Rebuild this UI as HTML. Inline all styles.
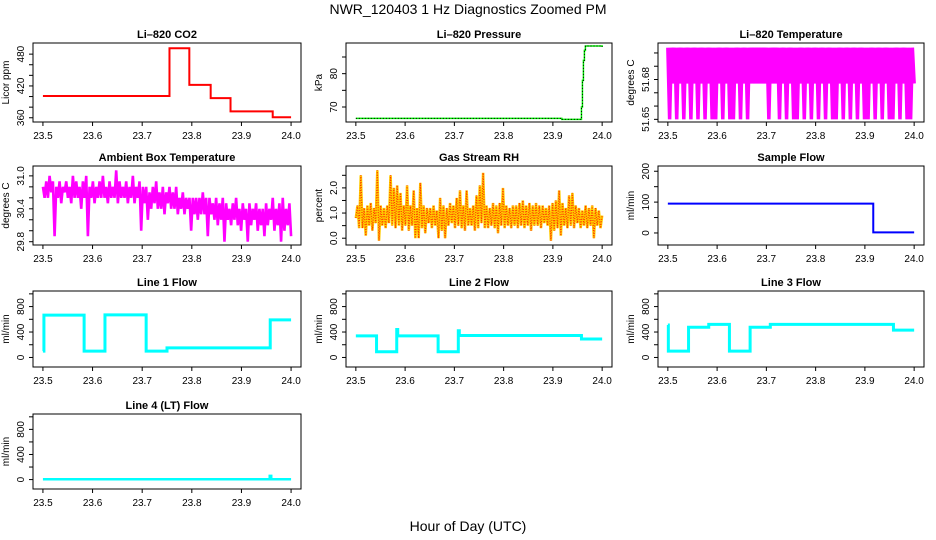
<!DOCTYPE html>
<html><head><meta charset="utf-8">
<style>
html,body{margin:0;padding:0;background:#fff;}
svg{display:block;font-family:"Liberation Sans",Arial,sans-serif;}
</style></head>
<body>
<svg id="chart" width="936" height="540" viewBox="0 0 936 540" xmlns="http://www.w3.org/2000/svg">
<text x="468" y="14" text-anchor="middle" font-size="14">NWR_120403  1 Hz Diagnostics Zoomed PM</text>
<text x="468" y="531" text-anchor="middle" font-size="14">Hour of Day (UTC)</text>
</svg>
<script>
const xTicks = [23.5, 23.6, 23.7, 23.8, 23.9, 24.0];
const xTickLabels = ["23.5", "23.6", "23.7", "23.8", "23.9", "24.0"];

const co2Times = [23.5, 23.755, 23.795, 23.838, 23.878, 23.963, 24.0];
const co2Vals = [401, 491, 422, 397, 372, 361, 361];

const pressTimes = [23.5, 23.918, 23.958, 23.960, 23.962, 23.964, 23.966, 24.0];
const pressVals = [66.6, 66.3, 70, 78, 84, 87, 88.3, 88.0];

const tempVals = [51.704,51.65,51.704,51.677,51.704,51.65,51.704,51.677,51.704,51.65,51.704,51.677,51.704,51.65,51.704,51.677,51.704,51.65,51.704,51.677,
51.704,51.65,51.704,51.677,51.704,51.65,51.704,51.65,51.704,51.677,51.704,51.65,51.704,51.677,51.704,51.65,51.704,51.65,51.704,51.677,
51.704,51.65,51.704,51.677,51.704,51.65,51.704,51.677,51.704,51.677,51.704,51.677,51.704,51.677,51.704,51.677,51.704,51.65,51.704,51.677,
51.704,51.677,51.704,51.65,51.704,51.677,51.704,51.65,51.704,51.677,51.704,51.65,51.704,51.65,51.704,51.677,51.704,51.65,51.704,51.677,
51.704,51.65,51.704,51.677,51.704,51.65,51.704,51.677,51.704,51.65,51.704,51.677,51.704,51.65,51.704,51.65,51.704,51.677,51.704,51.65,
51.704,51.677,51.704,51.65,51.704,51.677,51.704,51.65,51.704,51.677,51.704,51.65,51.704,51.65,51.704,51.677,51.704,51.65,51.704,51.677,
51.704,51.65,51.704,51.677,51.704,51.65,51.704,51.65,51.704,51.677,51.704,51.65,51.704,51.677,51.704,51.65,51.704,51.65,51.704,51.677];

const ambVals = [30.8,30.6,30.9,30.6,31.0,30.7,30.9,29.9,30.8,30.6,30.9,30.5,30.8,30.7,30.9,30.6,30.8,30.5,31.0,30.6,30.9,30.6,30.8,30.4,30.9,30.6,31.0,29.9,30.8,30.6,30.9,30.5,30.8,30.6,30.9,30.6,31.0,30.6,30.8,30.5,30.9,30.6,30.8,30.6,31.1,30.5,30.9,30.6,30.8,30.6,
30.9,30.5,30.8,30.6,31.0,30.5,30.8,30.6,30.9,30.0,30.8,30.5,30.8,30.2,30.7,30.4,30.8,30.5,30.9,30.4,30.7,30.4,30.8,30.3,30.7,30.5,30.8,30.4,30.7,30.4,30.8,30.3,30.6,30.4,30.7,30.3,30.6,30.4,30.6,30.0,30.6,30.3,30.6,30.2,30.6,30.3,30.7,30.3,30.6,29.9,
30.6,30.3,30.5,30.2,30.6,30.1,30.5,30.2,30.6,29.8,30.5,30.2,30.4,30.1,30.5,30.2,30.6,30.1,30.4,30.0,30.5,30.2,30.4,29.8,30.5,30.1,30.4,30.2,30.5,30.0,30.4,30.1,30.4,29.9,30.5,30.1,30.4,30.2,30.6,30.0,30.4,30.1,30.5,29.8,30.6,30.0,30.4,30.1,30.5,29.9];

const rhVals = [0.8,1.3,0.4,2.5,0.4,1.2,0.1,1.3,0.5,1.4,0.3,1.2,0.6,2.7,-0.1,1.3,0.5,1.2,0.4,1.3,0.6,2.5,0.5,2.0,0.4,2.1,0.5,1.8,0.3,1.3,0.5,2.1,0.3,1.3,0.5,1.9,0.0,1.2,0.0,2.2,0.4,1.3,0.2,1.2,0.6,1.2,0.4,1.3,0.5,1.1,
0.0,1.6,0.3,1.3,0.0,1.2,0.5,1.4,0.6,1.3,0.4,1.6,0.5,1.9,0.4,1.3,0.3,1.9,0.5,1.2,0.5,1.3,0.3,1.7,0.4,2.1,0.6,2.6,0.4,1.3,0.4,1.2,0.5,1.4,0.4,1.3,0.2,1.4,0.5,2.0,0.4,1.3,0.5,1.2,0.4,1.3,0.5,1.3,0.4,1.4,
0.5,1.5,0.4,1.3,0.5,1.4,0.3,1.3,0.5,1.4,0.5,1.3,0.4,1.3,0.6,1.2,0.5,1.3,-0.1,1.4,0.3,1.5,0.4,1.9,0.1,1.4,0.5,1.2,0.4,1.7,0.5,1.8,0.4,1.3,0.6,1.2,0.4,1.1,0.5,1.3,0.4,1.2,0.5,1.3,0.0,1.2,0.5,1.1,0.4,0.9];

const sampleTimes = [23.5, 23.917, 24.0];
const sampleVals = [95, 2, 2];

const line1Times = [23.5, 23.502, 23.583, 23.625, 23.708, 23.75, 23.958, 24.0];
const line1Vals = [100, 665, 100, 670, 100, 150, 590, 590];

const line2Times = [23.5, 23.542, 23.583, 23.585, 23.667, 23.708, 23.710, 23.958, 24.0];
const line2Vals = [340, 90, 440, 340, 90, 420, 345, 290, 290];

const line3Times = [23.5, 23.501, 23.542, 23.583, 23.625, 23.667, 23.708, 23.958, 24.0];
const line3Vals = [510, 100, 475, 520, 100, 475, 520, 430, 430];

const line4Times = [23.5, 23.957, 23.960, 24.0];
const line4Vals = [5, 60, 5, 5];

const NS = "http://www.w3.org/2000/svg";
const svg = document.getElementById("chart");
const XLIM = [23.48, 24.02];
function mk(tag, attrs, parent) {
  const e = document.createElementNS(NS, tag);
  for (const k in attrs) e.setAttribute(k, attrs[k]);
  (parent || svg).appendChild(e);
  return e;
}
function makePanel(p) {
  const g = mk("g", {});
  
  
  const sx = v => p.x0 + (v - XLIM[0]) / (XLIM[1] - XLIM[0]) * (p.x1 - p.x0);
  const sy = v => p.y1 - (v - p.ylim[0]) / (p.ylim[1] - p.ylim[0]) * (p.y1 - p.y0);
  const t = mk("text", {x: (p.x0 + p.x1) / 2, y: p.y0 - 5, "text-anchor": "middle", "font-size": 11, "font-weight": "bold"}, g);
  t.textContent = p.title;
  
  
  const xa = mk("g", {}, g);
  
  
  mk("line", {x1: sx(xTicks[0]), x2: sx(xTicks[xTicks.length - 1]), y1: p.y1, y2: p.y1, stroke: "#000"}, xa);
  xTicks.forEach((v, i) => {
    mk("line", {x1: sx(v), x2: sx(v), y1: p.y1, y2: p.y1 + 4, stroke: "#000"}, xa);
    const l = mk("text", {x: sx(v), y: p.y1 + 17, "text-anchor": "middle", "font-size": 10}, xa);
    l.textContent = xTickLabels[i];
  });
  const ya = mk("g", {}, g);
  
  
  mk("line", {x1: p.x0, x2: p.x0, y1: sy(p.yticks[0]), y2: sy(p.yticks[p.yticks.length - 1]), stroke: "#000"}, ya);
  p.yticks.forEach(v => {
    mk("line", {x1: p.x0 - 4, x2: p.x0, y1: sy(v), y2: sy(v), stroke: "#000"}, ya);
  });
  p.ylabels.forEach(v => {
    const yy = sy(v);
    const l = mk("text", {x: p.x0 - 9, y: yy, "text-anchor": "middle", "font-size": 10, transform: `rotate(-90 ${p.x0 - 9} ${yy})`}, ya);
    l.textContent = p.fmt ? p.fmt(v) : String(v);
  });
  const yt = mk("text", {x: p.x0 - 24, y: (p.y0 + p.y1) / 2, "text-anchor": "middle", "font-size": 10, transform: `rotate(-90 ${p.x0 - 24} ${(p.y0 + p.y1) / 2})`}, g);
  yt.textContent = p.ylab;
  
  
  const cid = "clip-" + p.name;
  const cp = mk("clipPath", {id: cid}, g);
  mk("rect", {x: p.x0, y: p.y0, width: p.x1 - p.x0, height: p.y1 - p.y0}, cp);
  const dg = mk("g", {"clip-path": `url(#${cid})`}, g);
  p.draw(dg, sx, sy);
  const box = mk("rect", {x: p.x0, y: p.y0, width: p.x1 - p.x0, height: p.y1 - p.y0, fill: "none", stroke: "#000"}, g);
  
  
}
function stepPath(times, vals, sx, sy) {
  let d = `M${sx(times[0])},${sy(vals[0])}`;
  for (let i = 1; i < times.length; i++) {
    d += ` L${sx(times[i])},${sy(vals[i - 1])} L${sx(times[i])},${sy(vals[i])}`;
  }
  return d;
}
function densePath(vals, sx, sy) {
  const n = vals.length;
  return vals.map((v, i) => (i ? "L" : "M") + sx(23.5 + 0.5 * i / (n - 1)) + "," + sy(v)).join(" ");
}
function stepSeries(name, times, vals, color, w) {
  return (g, sx, sy) => {
    const e = mk("path", {d: stepPath(times, vals, sx, sy), fill: "none", stroke: color, "stroke-width": w}, g);
    
    
  };
}
const cols = [[33, 301], [346, 612], [658, 924]];
const rows = [[43, 122], [166, 245], [291, 367], [414, 489]];
const flowTicks = [0, 200, 400, 600, 800, 1000];
const flowLabels = [0, 400, 800];
const panels = [
  {name: "co2", title: "Li\u2013820 CO2", ylab: "Licor ppm", c: 0, r: 0, ylim: [352, 501],
   yticks: [360, 380, 400, 420, 440, 460, 480], ylabels: [360, 420, 480],
   draw: stepSeries("co2-line", co2Times, co2Vals, "#ff0000", 2)},
  {name: "pressure", title: "Li\u2013820 Pressure", ylab: "kPa", c: 1, r: 0, ylim: [65.5, 89.2],
   yticks: [70, 75, 80, 85], ylabels: [70, 80],
   draw: (g, sx, sy) => {
     const a = mk("path", {d: stepPath(pressTimes, pressVals, sx, sy), fill: "none", stroke: "#00ee00", "stroke-width": 1.5}, g);
     
     
     const b = mk("path", {d: stepPath(pressTimes, pressVals, sx, sy), fill: "none", stroke: "#000", "stroke-width": 1, "stroke-dasharray": "1 2"}, g);
     
     
   }},
  {name: "li820-temp", title: "Li\u2013820 Temperature", ylab: "degrees C", c: 2, r: 0, ylim: [51.648, 51.7075],
   yticks: [51.65, 51.66, 51.67, 51.68, 51.69, 51.70], ylabels: [51.65, 51.68], fmt: v => v.toFixed(2),
   draw: (g, sx, sy) => {
     const e = mk("path", {d: densePath(tempVals, sx, sy), fill: "none", stroke: "#ff00ff", "stroke-width": 3.5}, g);
     
     
   }},
  {name: "ambient-temp", title: "Ambient Box Temperature", ylab: "degrees C", c: 0, r: 1, ylim: [29.74, 31.18],
   yticks: [29.8, 30.0, 30.2, 30.4, 30.6, 30.8, 31.0], ylabels: [29.8, 30.4, 31.0], fmt: v => v.toFixed(1),
   draw: (g, sx, sy) => {
     const e = mk("path", {d: densePath(ambVals, sx, sy), fill: "none", stroke: "#ff00ff", "stroke-width": 2.6}, g);
     
     
   }},
  {name: "gas-rh", title: "Gas Stream RH", ylab: "percent", c: 1, r: 1, ylim: [-0.27, 2.87],
   yticks: [0, 0.5, 1.0, 1.5, 2.0, 2.5], ylabels: [0, 1, 2], fmt: v => v.toFixed(1),
   draw: (g, sx, sy) => {
     const e = mk("path", {d: densePath(rhVals, sx, sy), fill: "none", stroke: "#ffcc00", "stroke-width": 2.6}, g);
     
     
     const f = mk("path", {d: densePath(rhVals, sx, sy), fill: "none", stroke: "#ff3300", "stroke-width": 1.2, "stroke-dasharray": "1 1.5"}, g);
     
     
   }},
  {name: "sample-flow", title: "Sample Flow", ylab: "ml/min", c: 2, r: 1, ylim: [-39, 217],
   yticks: [0, 50, 100, 150, 200], ylabels: [0, 100, 200],
   draw: stepSeries("sample-flow-line", sampleTimes, sampleVals, "#0000ff", 2)},
  {name: "line1-flow", title: "Line 1 Flow", ylab: "ml/min", c: 0, r: 2, ylim: [-150, 1045],
   yticks: flowTicks, ylabels: flowLabels, draw: stepSeries("line1-flow-line", line1Times, line1Vals, "#00ffff", 3)},
  {name: "line2-flow", title: "Line 2 Flow", ylab: "ml/min", c: 1, r: 2, ylim: [-150, 1045],
   yticks: flowTicks, ylabels: flowLabels, draw: stepSeries("line2-flow-line", line2Times, line2Vals, "#00ffff", 3)},
  {name: "line3-flow", title: "Line 3 Flow", ylab: "ml/min", c: 2, r: 2, ylim: [-150, 1045],
   yticks: flowTicks, ylabels: flowLabels, draw: stepSeries("line3-flow-line", line3Times, line3Vals, "#00ffff", 3)},
  {name: "line4-flow", title: "Line 4 (LT) Flow", ylab: "ml/min", c: 0, r: 3, ylim: [-150, 1045],
   yticks: flowTicks, ylabels: flowLabels, draw: stepSeries("line4-flow-line", line4Times, line4Vals, "#00ffff", 2.5)}
];
panels.forEach(p => {
  p.x0 = cols[p.c][0]; p.x1 = cols[p.c][1];
  p.y0 = rows[p.r][0]; p.y1 = rows[p.r][1];
  makePanel(p);
});
</script>
</body></html>
